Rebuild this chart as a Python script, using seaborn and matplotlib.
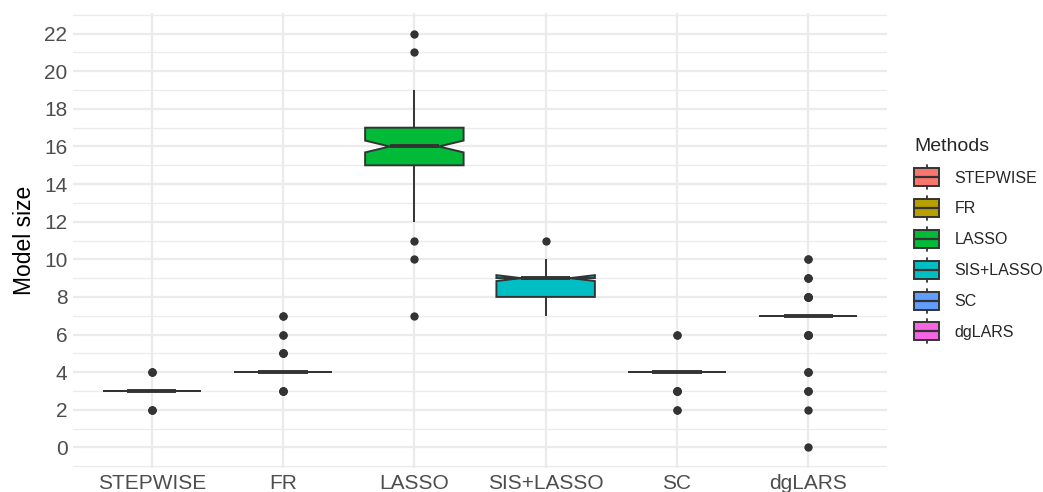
import numpy as np
import pandas as pd
import matplotlib
matplotlib.use("Agg")
import matplotlib.pyplot as plt
import seaborn as sns
from matplotlib.patches import Rectangle, Patch
from matplotlib.lines import Line2D
from matplotlib.legend_handler import HandlerBase
from matplotlib.ticker import MultipleLocator

# ---- data: model size frequency tables per method ----
methods = ["STEPWISE", "FR", "LASSO", "SIS+LASSO", "SC", "dgLARS"]
colors = ["#F8766D", "#B79F00", "#00BA38", "#00BFC4", "#619CFF", "#F564E3"]

stepwise_vals = [2, 3, 4]
stepwise_cnts = [3, 94, 3]
fr_vals = [3, 4, 5, 6, 7]
fr_cnts = [4, 88, 4, 2, 2]
lasso_vals = [7, 10, 11, 12, 13, 14, 15, 16, 17, 18, 19, 21, 22]
lasso_cnts = [1, 1, 1, 2, 3, 10, 24, 26, 20, 8, 2, 1, 1]
sislasso_vals = [7, 8, 9, 10, 11]
sislasso_cnts = [5, 30, 55, 9, 1]
sc_vals = [2, 3, 4, 6]
sc_cnts = [2, 5, 91, 2]
dglars_vals = [0, 2, 3, 4, 6, 7, 8, 9, 10]
dglars_cnts = [1, 1, 3, 3, 6, 75, 6, 3, 2]

tables = {
    "STEPWISE": (stepwise_vals, stepwise_cnts),
    "FR": (fr_vals, fr_cnts),
    "LASSO": (lasso_vals, lasso_cnts),
    "SIS+LASSO": (sislasso_vals, sislasso_cnts),
    "SC": (sc_vals, sc_cnts),
    "dgLARS": (dglars_vals, dglars_cnts),
}
rows = []
for m in methods:
    v, c = tables[m]
    for val in np.repeat(v, c):
        rows.append((m, val))
df = pd.DataFrame(rows, columns=["Methods", "size"])

# ---- figure ----
sns.set_style("white")
plt.rcParams["font.family"] = ["Liberation Sans", "DejaVu Sans"]

W, H = 1043, 492
fig = plt.figure(figsize=(W / 100, H / 100), dpi=100)
ax = fig.add_axes([73 / W, (H - 468) / H, (887 - 73) / W, (468 - 13) / H])

edge = "#333333"
sns.boxplot(
    data=df, x="Methods", y="size", hue="Methods", order=methods, hue_order=methods,
    palette=colors, saturation=1, notch=True, width=0.75, linecolor=edge,
    linewidth=1.4, showcaps=False, legend=False, ax=ax,
    flierprops=dict(marker="o", markersize=6, markerfacecolor=edge,
                    markeredgecolor=edge, markeredgewidth=0),
    medianprops=dict(linewidth=2.8, color=edge),
)

ax.set_ylim(-1.1, 23.1)
ax.set_xlim(-0.6, len(methods) - 0.4)
ax.yaxis.set_major_locator(MultipleLocator(2))
ax.yaxis.set_minor_locator(MultipleLocator(1))
ax.grid(True, which="major", color="#EBEBEB", linewidth=1.6)
ax.grid(True, which="minor", axis="y", color="#EBEBEB", linewidth=0.9)
ax.set_axisbelow(True)
for s in ax.spines.values():
    s.set_visible(False)
ax.tick_params(axis="both", which="both", length=0, labelsize=15, labelcolor="#4D4D4D", pad=4)
ax.set_xlabel("")
ax.set_ylabel("Model size", fontsize=16.5, color="black", labelpad=6)

PX = 0.72  # points per pixel at 100 dpi


class BoxHandler(HandlerBase):
    def create_artists(self, legend, orig_handle, xdescent, ydescent, width, height, fontsize, trans):
        fc = orig_handle.get_facecolor()
        x0, y0 = -xdescent, -ydescent
        bw = 25 * PX
        bh = 18 * PX
        wh = 24 * PX
        cx = x0 + width / 2
        cy = y0 + height / 2
        w1 = Line2D([cx, cx], [cy - wh / 2, cy - bh / 2], color=edge, lw=1.3, transform=trans)
        w2 = Line2D([cx, cx], [cy + bh / 2, cy + wh / 2], color=edge, lw=1.3, transform=trans)
        r = Rectangle((cx - bw / 2, cy - bh / 2), bw, bh, facecolor=fc, edgecolor=edge,
                      lw=1.4, transform=trans)
        med = Line2D([cx - bw / 2, cx + bw / 2], [cy, cy], color=edge, lw=1.6, transform=trans)
        return [w1, w2, r, med]


handles = [Patch(facecolor=c, label=m) for c, m in zip(colors, methods)]
leg = fig.legend(
    handles=handles, labels=methods, title="Methods", loc="upper left",
    bbox_to_anchor=(914 / W, 1 - 138 / H), frameon=False, fontsize=11.5,
    title_fontsize=14, handler_map={Patch: BoxHandler()}, handlelength=1.57,
    handleheight=1.5, labelspacing=0.71, handletextpad=0.95, borderpad=0,
    borderaxespad=0, alignment="left",
)
leg._legend_box.sep = 9

fig.savefig("out.png", dpi=100, facecolor="white")
